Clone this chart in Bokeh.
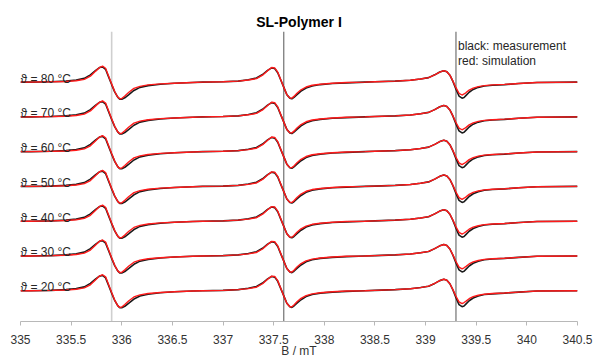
from bokeh.plotting import figure
from bokeh.models import ColumnDataSource, Span, FixedTicker, Range1d
from bokeh.core.properties import value
from bokeh.embed import file_html
from bokeh.resources import INLINE

# ---------------- data ----------------
temperatures = [20, 30, 40, 50, 60, 70, 80]          # stacked bottom -> top
trace_offsets = [0, 1, 2, 3, 4, 5, 6]                # stacking position of each trace
line_centers = [335.9, 337.6, 339.3]                 # mT, marked by vertical lines
field_start = 335.0
field_end = 340.5

# sample positions relative to each line centre (mT)
dx = [-0.80, -0.60, -0.45, -0.35, -0.27, -0.21, -0.16, -0.12, -0.09, -0.06, -0.03, 0.00,
      0.03, 0.06, 0.08, 0.10, 0.13, 0.17, 0.22, 0.28, 0.36, 0.48, 0.62, 0.80]

# simulated (red) derivative line shapes
sim_line1 = [0.00, 0.01, 0.02, 0.04, 0.08, 0.17, 0.31, 0.42, 0.46, 0.40, 0.18, -0.05,
             -0.27, -0.43, -0.48, -0.47, -0.40, -0.29, -0.18, -0.12, -0.08, -0.05, -0.03, -0.01]
sim_line2 = [0.00, 0.01, 0.03, 0.06, 0.10, 0.20, 0.33, 0.42, 0.41, 0.29, 0.07, -0.15,
             -0.36, -0.46, -0.46, -0.41, -0.32, -0.22, -0.14, -0.09, -0.06, -0.03, -0.01, 0.00]
sim_line3 = [0.01, 0.03, 0.055, 0.09, 0.13, 0.21, 0.29, 0.33, 0.30, 0.20, 0.03, -0.16,
             -0.32, -0.37, -0.34, -0.30, -0.23, -0.17, -0.13, -0.10, -0.08, -0.065, -0.04, -0.01]

# measured (black) derivative line shapes
meas_line1 = [0.00, 0.01, 0.03, 0.06, 0.11, 0.21, 0.33, 0.42, 0.44, 0.37, 0.15, -0.07,
              -0.28, -0.43, -0.49, -0.49, -0.45, -0.36, -0.24, -0.15, -0.10, -0.06, -0.03, -0.01]
meas_line2 = [0.00, 0.01, 0.03, 0.07, 0.12, 0.22, 0.34, 0.41, 0.39, 0.27, 0.06, -0.15,
              -0.36, -0.46, -0.48, -0.44, -0.36, -0.26, -0.17, -0.11, -0.07, -0.04, -0.02, 0.00]
meas_line3 = [0.01, 0.03, 0.055, 0.09, 0.13, 0.21, 0.29, 0.33, 0.30, 0.20, 0.02, -0.20,
              -0.40, -0.46, -0.44, -0.38, -0.29, -0.21, -0.15, -0.11, -0.09, -0.07, -0.04, -0.01]

sim_lines = [sim_line1, sim_line2, sim_line3]
meas_lines = [meas_line1, meas_line2, meas_line3]

tick_values = [335, 335.5, 336, 336.5, 337, 337.5, 338, 338.5, 339, 339.5, 340, 340.5]
tick_labels = ["335", "335.5", "336", "336.5", "337", "337.5", "338", "338.5",
               "339", "339.5", "340", "340.5"]

title_text = "SL-Polymer I"
x_label = "B / mT"
legend_lines = ["black: measurement", "red: simulation"]

FONT = "Liberation Sans"


def build_trace(shapes, offset):
    xs = [field_start]
    ys = [offset]
    for c, shape in zip(line_centers, shapes):
        for d, v in zip(dx, shape):
            xs.append(c + d)
            ys.append(offset + v)
    xs.append(field_end)
    ys.append(offset)
    return xs, ys


# ---------------- figure ----------------
p = figure(width=593, height=360, output_backend="svg", toolbar_location=None,
           x_range=Range1d(field_start, field_end), y_range=Range1d(-0.886, 7.457),
           min_border_left=20, min_border_right=16, min_border_top=31, min_border_bottom=37)
p.outline_line_color = None
p.grid.visible = False
p.yaxis.visible = False
p.background_fill_color = "white"
p.border_fill_color = "white"

p.title.text = title_text
p.title.align = "center"
p.title.text_font = FONT
p.title.text_font_size = "14px"
p.title.text_font_style = "bold"
p.title.text_color = "#000000"
p.title.standoff = 4

# vertical marker lines
span_colors = ["#cfcfcf", "#555555", "#555555"]
span_widths = [1.6, 1.0, 1.0]
for c, col, w in zip(line_centers, span_colors, span_widths):
    p.add_layout(Span(location=c, dimension="height", line_color=col,
                      line_width=w, level="underlay"))

# traces
for off in trace_offsets:
    mx, my = build_trace(meas_lines, off)
    p.line(mx, my, line_color="#1a1a1a", line_width=1.6)
for off in trace_offsets:
    sx, sy = build_trace(sim_lines, off)
    p.line(sx, sy, line_color="#ff1a1a", line_width=1.4)

# temperature labels
lab_src = ColumnDataSource(dict(
    x=[field_start] * len(temperatures),
    y=[o + 0.10 for o in trace_offsets],
    text=["\u03d1 = %d \u00b0C" % t for t in temperatures],
))
p.text(x="x", y="y", text="text", source=lab_src, text_font=value(FONT),
       text_font_size="12px", text_color="#262626", text_baseline="alphabetic",
       text_align="left")

# legend text
leg_src = ColumnDataSource(dict(
    x=[line_centers[2]] * 2,
    y=[7.03, 6.6],
    text=legend_lines,
))
p.text(x="x", y="y", text="text", source=leg_src, text_font=value(FONT),
       text_font_size="12px", text_color="#262626", text_baseline="alphabetic",
       text_align="left", x_offset=2)

# x axis
ax = p.xaxis[0]
ax.ticker = FixedTicker(ticks=tick_values)
ax.major_label_overrides = {v: s for v, s in zip(tick_values, tick_labels)}
ax.minor_tick_line_color = None
ax.major_tick_in = 0
ax.major_tick_out = 4
ax.axis_line_color = "#b8b8b8"
ax.major_tick_line_color = "#b8b8b8"
ax.major_label_text_font = FONT
ax.major_label_text_font_size = "12px"
ax.major_label_text_color = "#333333"
ax.major_label_standoff = 9
ax.axis_label = x_label
ax.axis_label_text_font = FONT
ax.axis_label_text_font_size = "12px"
ax.axis_label_text_font_style = "normal"
ax.axis_label_text_color = "#333333"
ax.axis_label_standoff = -3

open("out.html", "w").write(file_html(p, INLINE))
